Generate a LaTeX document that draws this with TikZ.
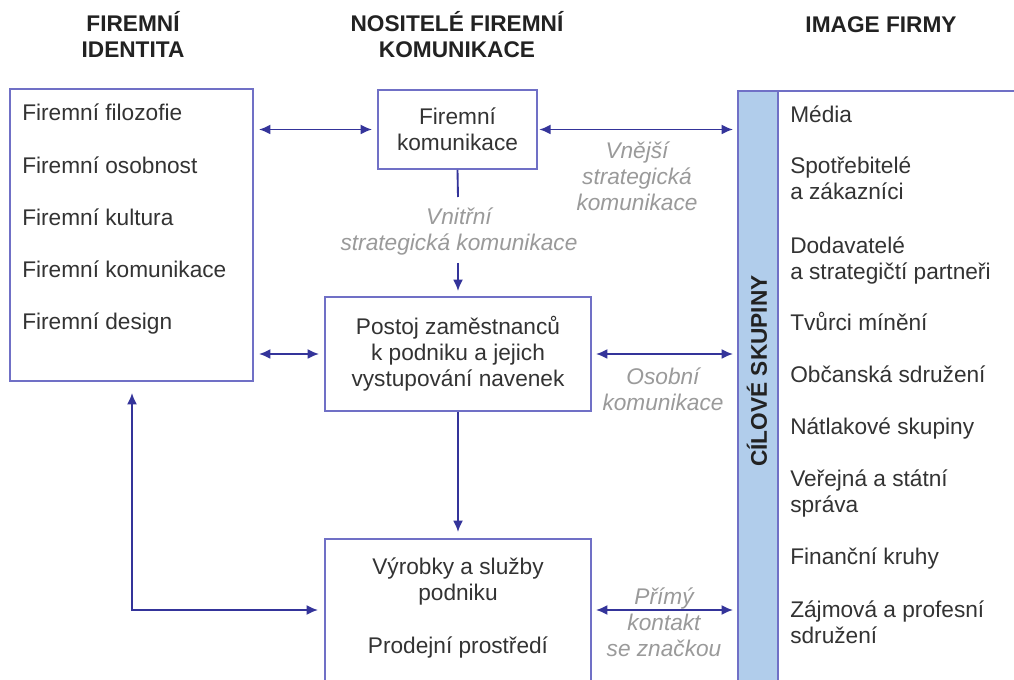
\documentclass[tikz,border=0pt]{standalone}
\usepackage{fontspec}
\setmainfont{Liberation Sans}
\usetikzlibrary{arrows.meta}
\definecolor{boxc}{HTML}{7070C6}
\definecolor{arrc}{HTML}{34349A}
\definecolor{barc}{HTML}{B1CDEB}
\definecolor{txtc}{HTML}{333333}
\definecolor{lblc}{HTML}{9A9A9A}
\definecolor{headc}{HTML}{222222}
\begin{document}
\begin{tikzpicture}[x=0.75pt,y=-0.75pt,
  box/.style={draw=boxc, line width=1.4pt, inner sep=0pt, fill=white, text=txtc,
    font=\fontsize{17}{19.5}\selectfont, align=center},
  txt/.style={text=txtc, font=\fontsize{17}{19.5}\selectfont, inner sep=0pt},
  lbl/.style={text=lblc, font=\fontsize{17}{19.5}\selectfont\itshape, align=center, inner sep=0pt},
  head/.style={text=headc, font=\fontsize{17}{19.5}\selectfont\bfseries, align=center, inner sep=0pt},
  conn/.style={draw=arrc, line width=1.4pt, {Latex[length=8.5pt,width=7.5pt]}-{Latex[length=8.5pt,width=7.5pt]}},
  arr/.style={draw=arrc, line width=1.4pt, -{Latex[length=8.5pt,width=7.5pt]}},
  plain/.style={draw=arrc, line width=1.4pt}]
\useasboundingbox (0,0) rectangle (1014,680);
\clip (0,0) rectangle (1014,680);
\fill[white] (0,0) rectangle (1014,680);

% headings
\node[head, anchor=base] (h1) at (133,58) {FIREMNÍ\\IDENTITA};
\node[head, anchor=base] (h2) at (457,58) {NOSITELÉ FIREMNÍ\\KOMUNIKACE};
\node[head, anchor=base] (h3) at (881,33) {IMAGE FIRMY};

% left box
\node[box, minimum width=182.25pt, minimum height=219pt] (idbox) at (131.5,235) {};
\node[txt, anchor=base west] (i1) at (22,121) {Firemní filozofie};
\node[txt, anchor=base west] (i2) at (22,174) {Firemní osobnost};
\node[txt, anchor=base west] (i3) at (22,226) {Firemní kultura};
\node[txt, anchor=base west] (i4) at (22,278) {Firemní komunikace};
\node[txt, anchor=base west] (i5) at (22,330) {Firemní design};

% middle boxes
\node[box, minimum width=119.25pt, minimum height=59.25pt] (fk) at (457.5,129.5) {Firemní\\komunikace};
\node[box, minimum width=199.5pt, minimum height=85.5pt] (pz) at (458,354)
  {Postoj zaměstnanců\\k podniku a jejich\\vystupování navenek};
\node[box, minimum width=199.5pt, minimum height=121.5pt, anchor=north] (vy) at (458,538) {};
\node[txt, anchor=base, align=center] (vyt) at (458,600) {Výrobky a služby\\podniku};
\node[txt, anchor=base] (pp) at (458,653) {Prodejní prostředí};

% right panel and bar
\node[box, anchor=north west, minimum width=225pt, minimum height=465pt] (panel) at (737,90) {};
\node[draw=boxc, fill=barc, line width=1.4pt, inner sep=0pt, anchor=north west,
  minimum width=30pt, minimum height=465pt] (bar) at (737,90) {};
\node[head, rotate=90] (cs) at (757,371) {CÍLOVÉ SKUPINY};

\node[txt, anchor=base west] (r1) at (790,123) {Média};
\node[txt, anchor=base west, align=left] (r2) at (790,200) {Spotřebitelé\\a zákazníci};
\node[txt, anchor=base west, align=left] (r3) at (790,280) {Dodavatelé\\a strategičtí partneři};
\node[txt, anchor=base west] (r4) at (790,331) {Tvůrci mínění};
\node[txt, anchor=base west] (r5) at (790,383) {Občanská sdružení};
\node[txt, anchor=base west] (r6) at (790,435) {Nátlakové skupiny};
\node[txt, anchor=base west, align=left] (r7) at (790,513) {Veřejná a státní\\správa};
\node[txt, anchor=base west] (r8) at (790,565) {Finanční kruhy};
\node[txt, anchor=base west, align=left] (r9) at (790,643) {Zájmová a profesní\\sdružení};

% coordinates
\coordinate (c1) at (458,197);
\coordinate (c2) at (458,263);
\coordinate (corner) at (132,610);

% connectors
\draw[conn, shorten <=3.75pt, shorten >=3.75pt] (idbox.east |- fk.west) -- (fk.west);
\draw[conn, shorten <=1pt, shorten >=3pt] (fk.east) -- (bar.west |- fk.east);
\draw[plain] (fk.south) -- (c1);
\draw[arr, shorten >=3.75pt] (c2) -- (pz.north);
\draw[conn, shorten <=3.75pt, shorten >=3.75pt] (idbox.east |- pz.west) -- (pz.west);
\draw[conn, shorten <=3pt, shorten >=3pt] (pz.east) -- (bar.west |- pz.east);
\draw[arr, shorten >=4.5pt] (pz.south) -- (vy.north);
\draw[conn, shorten <=8.25pt, shorten >=4.5pt] (idbox.south -| corner) -- (corner) -- (corner -| vy.west);
\draw[conn, shorten <=3pt, shorten >=3pt] (corner -| vy.east) -- (corner -| bar.west);

% labels
\node[lbl, anchor=base] (l1) at (637,211) {Vnější\\strategická\\komunikace};
\node[lbl, anchor=base] (l2) at (459,251) {Vnitřní\\strategická komunikace};
\node[lbl, anchor=base] (l3) at (663,411) {Osobní\\komunikace};
\node[lbl, anchor=base] (l4) at (664,656) {Přímý\\kontakt\\se značkou};
\end{tikzpicture}
\end{document}
